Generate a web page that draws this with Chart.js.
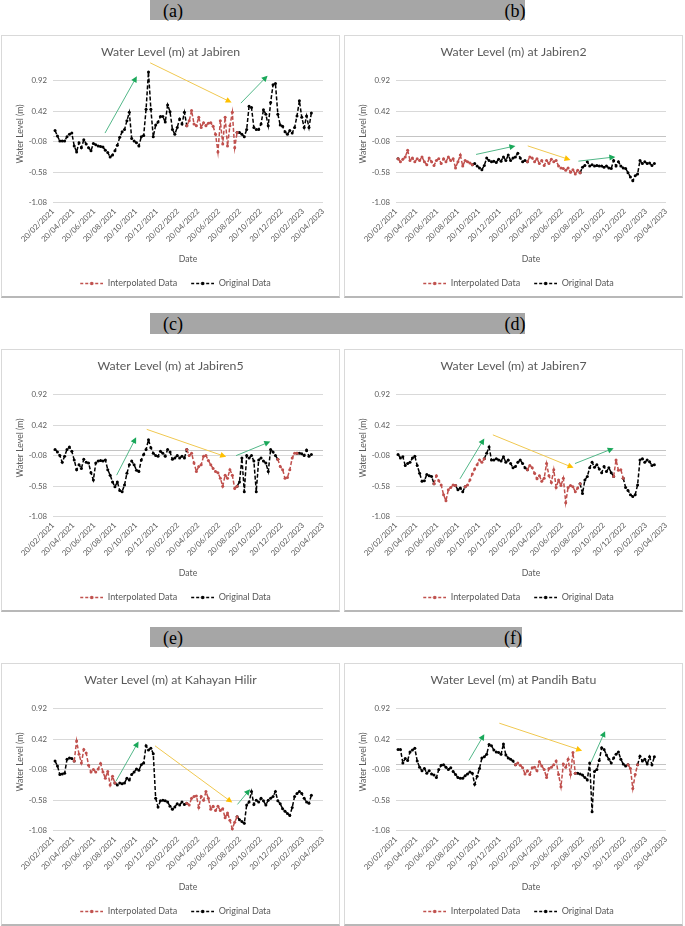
<!DOCTYPE html>
<html>
<head>
<meta charset="utf-8">
<script src="https://cdn.jsdelivr.net/npm/chart.js@4.4.1/dist/chart.umd.min.js"></script>
<style>
html,body{margin:0;padding:0;background:#fff;}
body{width:685px;height:926px;position:relative;overflow:hidden;}
.bar{position:absolute;background:#a6a6a6;}
.tag{position:absolute;font-family:'Liberation Serif','Times New Roman',serif;font-size:18px;color:#000;transform:translate(-50%,-50%);line-height:1;white-space:nowrap;}
.frame{position:absolute;box-sizing:border-box;border:1px solid #d9d9d9;border-bottom:2px solid #b8b8b8;}
canvas{position:absolute;}
</style>
</head>
<body>
<div class="bar" style="left:150px;top:0px;width:375px;height:20px;"></div>
<div class="tag" style="left:173px;top:11px;">(a)</div>
<div class="tag" style="left:515px;top:11px;">(b)</div>
<div class="bar" style="left:150px;top:313px;width:375px;height:21px;"></div>
<div class="tag" style="left:173px;top:324px;">(c)</div>
<div class="tag" style="left:515px;top:324px;">(d)</div>
<div class="bar" style="left:150px;top:627px;width:372px;height:20px;"></div>
<div class="tag" style="left:173px;top:638px;">(e)</div>
<div class="tag" style="left:513px;top:638px;">(f)</div>

<script>
// ---------------- data ----------------
const dateTickLabels = ['20/02/2021','20/04/2021','20/06/2021','20/08/2021','20/10/2021','20/12/2021',
  '20/02/2022','20/04/2022','20/06/2022','20/08/2022','20/10/2022','20/12/2022','20/02/2023','20/04/2023'];
const levelTickLabels = [-1.08, -0.58, -0.08, 0.42, 0.92];
const firstSampleDate = '26/02/2021';
const sampleStepDays = 7;

const levelJabiren = [0.10,0.01,-0.07,-0.07,-0.07,0.00,0.04,0.06,-0.15,-0.25,
 -0.10,-0.18,-0.05,-0.12,-0.18,-0.23,-0.11,-0.13,-0.15,-0.16,
 -0.17,-0.22,-0.26,-0.33,-0.30,-0.23,-0.14,-0.01,0.08,0.12,
 0.26,0.40,-0.03,-0.07,-0.10,-0.15,0.00,0.02,0.45,1.06,
 0.45,0.00,0.19,0.24,0.33,0.33,0.24,0.52,0.41,0.12,
 0.04,0.15,0.29,0.21,0.40,0.18,0.26,0.43,0.21,0.18,
 0.32,0.15,0.23,0.18,0.22,0.23,0.17,0.04,-0.25,0.26,
 -0.12,0.32,-0.15,0.18,0.40,-0.18,0.07,0.07,0.04,0.00,
 0.12,0.50,0.48,0.15,0.12,0.12,0.21,0.44,0.37,0.18,
 0.56,0.85,0.87,0.37,0.19,0.17,0.08,0.04,0.10,0.06,
 0.15,0.34,0.59,0.32,0.15,0.34,0.15,0.39];
const interpJabiren = [[56,75]];

const levelJabiren2 = [-0.36,-0.41,-0.37,-0.33,-0.22,-0.39,-0.35,-0.41,-0.36,-0.39,
 -0.33,-0.41,-0.46,-0.35,-0.41,-0.47,-0.39,-0.36,-0.44,-0.36,
 -0.41,-0.33,-0.39,-0.36,-0.51,-0.41,-0.30,-0.48,-0.39,-0.41,
 -0.43,-0.46,-0.44,-0.48,-0.51,-0.54,-0.47,-0.35,-0.39,-0.41,
 -0.40,-0.42,-0.37,-0.40,-0.33,-0.39,-0.30,-0.39,-0.35,-0.33,
 -0.27,-0.35,-0.41,-0.39,-0.41,-0.33,-0.35,-0.41,-0.36,-0.44,
 -0.39,-0.47,-0.39,-0.44,-0.37,-0.41,-0.39,-0.48,-0.51,-0.52,
 -0.55,-0.51,-0.58,-0.54,-0.61,-0.55,-0.59,-0.50,-0.47,-0.41,
 -0.48,-0.46,-0.48,-0.47,-0.48,-0.48,-0.50,-0.48,-0.51,-0.52,
 -0.39,-0.48,-0.41,-0.48,-0.51,-0.52,-0.59,-0.66,-0.72,-0.64,
 -0.61,-0.39,-0.44,-0.41,-0.44,-0.43,-0.47,-0.44];
const interpJabiren2 = [[1,30],[55,75]];

const levelJabiren5 = [0.02,-0.02,-0.08,-0.19,-0.09,0.02,0.06,-0.01,-0.15,-0.31,
 -0.23,-0.29,-0.14,-0.19,-0.20,-0.36,-0.48,-0.20,-0.17,-0.16,
 -0.17,-0.15,-0.31,-0.40,-0.51,-0.59,-0.51,-0.65,-0.67,-0.56,
 -0.37,-0.23,-0.17,-0.23,-0.32,-0.34,-0.15,-0.06,0.02,0.18,
 0.05,-0.04,-0.08,-0.09,-0.01,-0.04,-0.09,0.02,-0.02,-0.14,
 -0.12,-0.08,-0.12,-0.09,-0.12,0.02,-0.08,-0.04,-0.20,-0.34,
 -0.26,-0.23,-0.09,-0.08,-0.16,-0.23,-0.29,-0.34,-0.36,-0.45,
 -0.58,-0.40,-0.45,-0.31,-0.40,-0.62,-0.58,-0.51,-0.12,-0.67,
 -0.08,-0.12,-0.08,-0.17,-0.67,-0.15,-0.12,-0.17,-0.20,-0.34,
 0.02,-0.02,-0.08,-0.14,-0.26,-0.31,-0.45,-0.44,-0.31,-0.12,
 -0.04,-0.04,-0.04,-0.05,-0.08,0.01,-0.09,-0.06];
const interpJabiren5 = [[56,75],[94,100]];

const levelJabiren7 = [-0.06,-0.12,-0.10,-0.24,-0.21,-0.19,-0.12,-0.09,-0.24,-0.37,
 -0.50,-0.49,-0.39,-0.41,-0.42,-0.54,-0.41,-0.49,-0.56,-0.72,
 -0.82,-0.64,-0.60,-0.56,-0.57,-0.64,-0.61,-0.67,-0.59,-0.56,
 -0.48,-0.38,-0.30,-0.23,-0.15,-0.19,-0.13,-0.04,0.06,-0.15,
 -0.15,-0.13,-0.15,-0.17,-0.10,-0.19,-0.15,-0.21,-0.28,-0.26,
 -0.19,-0.15,-0.21,-0.28,-0.31,-0.24,-0.28,-0.37,-0.46,-0.41,
 -0.50,-0.45,-0.21,-0.41,-0.52,-0.31,-0.60,-0.48,-0.57,-0.45,
 -0.85,-0.60,-0.57,-0.59,-0.67,-0.61,-0.54,-0.70,-0.48,-0.42,
 -0.28,-0.19,-0.27,-0.23,-0.30,-0.36,-0.26,-0.34,-0.28,-0.36,
 -0.42,-0.15,-0.32,-0.31,-0.45,-0.60,-0.65,-0.72,-0.75,-0.72,
 -0.56,-0.15,-0.13,-0.19,-0.15,-0.18,-0.24,-0.23];
const interpJabiren7 = [[16,23],[29,35],[55,75],[91,93]];

const levelKahayanHilir = [0.06,-0.02,-0.16,-0.15,-0.14,0.09,0.11,0.10,0.06,0.39,
 0.17,0.03,0.25,0.19,-0.01,-0.12,-0.08,-0.12,-0.07,0.02,
 -0.12,-0.22,-0.11,-0.33,-0.19,-0.30,-0.33,-0.30,-0.31,-0.30,
 -0.22,-0.25,-0.16,-0.12,-0.07,-0.09,0.00,0.03,0.31,0.24,
 0.27,0.18,-0.55,-0.69,-0.59,-0.58,-0.59,-0.61,-0.68,-0.73,
 -0.69,-0.64,-0.66,-0.61,-0.65,-0.63,-0.66,-0.55,-0.52,-0.51,
 -0.70,-0.52,-0.58,-0.44,-0.55,-0.73,-0.68,-0.75,-0.68,-0.75,
 -0.72,-0.87,-0.79,-0.91,-1.05,-0.94,-0.85,-0.90,-0.93,-0.96,
 -0.66,-0.61,-0.44,-0.65,-0.58,-0.61,-0.55,-0.59,-0.66,-0.58,
 -0.55,-0.52,-0.44,-0.59,-0.64,-0.72,-0.76,-0.80,-0.83,-0.70,
 -0.52,-0.47,-0.44,-0.47,-0.55,-0.61,-0.63,-0.50];
const interpKahayanHilir = [[9,24],[56,75]];

const levelPandihBatu = [0.25,0.25,0.03,0.10,0.07,0.21,0.24,0.27,0.06,-0.04,
 -0.10,-0.06,-0.14,-0.10,-0.15,-0.17,-0.21,-0.08,-0.01,0.00,
 -0.04,-0.08,-0.05,-0.11,-0.16,-0.21,-0.22,-0.22,-0.18,-0.15,
 -0.12,-0.14,-0.32,-0.19,-0.06,0.11,0.13,0.17,0.33,0.31,
 0.24,0.21,0.20,0.17,0.34,0.16,0.11,0.09,0.06,0.00,
 0.03,-0.01,-0.05,-0.15,-0.10,-0.16,-0.05,-0.04,-0.10,0.05,
 -0.02,-0.08,-0.21,-0.06,-0.04,0.00,0.06,-0.16,-0.36,0.01,
 -0.04,0.09,-0.16,0.20,-0.14,-0.14,-0.15,-0.17,-0.21,-0.25,
 0.03,-0.77,-0.11,-0.08,0.07,0.28,0.25,0.16,0.09,0.03,
 0.11,0.17,0.21,0.09,0.01,-0.02,0.00,-0.06,-0.39,-0.16,
 0.00,0.14,0.06,0.09,0.01,0.13,0.00,0.13];
const interpPandihBatu = [[50,73],[97,99]];

// trend arrows (annotations): [fromDay, fromLevel, toDay, toLevel, kind]
const arrowsJabiren = [[152,0.06,245,0.99,'rise'],[284,1.21,522,0.56,'fall'],[549,0.55,627,1.00,'rise']];
const arrowsJabiren2 = [[234,-0.29,349,-0.15,'rise'],[385,-0.15,510,-0.38,'fall'],[533,-0.40,641,-0.33,'rise']];
const arrowsJabiren5 = [[186,-0.40,243,0.22,'rise'],[274,0.35,506,-0.10,'fall'],[535,-0.08,635,0.15,'rise']];
const arrowsJabiren7 = [[187,-0.46,258,0.20,'rise'],[283,0.26,519,-0.28,'fall'],[523,-0.21,636,0.04,'rise']];
const arrowsKahayanHilir = [[184,-0.27,250,0.38,'rise'],[298,0.31,524,-0.62,'fall'],[539,-0.65,576,-0.40,'rise']];
const arrowsPandihBatu = [[213,0.07,258,0.50,'rise'],[302,0.68,544,0.23,'fall'],[570,0.04,611,0.55,'rise']];

// ---------------- rendering ----------------
const FONT = "Lato, 'Open Sans', sans-serif";
const TXT = '#595959';
const RED = '#c0504d';
const BLACK = '#000000';

function dayOf(s) {
  const [d, m, y] = s.split('/').map(Number);
  return Math.round((Date.UTC(y, m - 1, d) - Date.UTC(2021, 1, 20)) / 86400000);
}
const tickDays = dateTickLabels.map(dayOf);
const firstDay = dayOf(firstSampleDate);

function buildSets(values, ranges) {
  const inInterior = i => ranges.some(r => i >= r[0] && i <= r[1]);
  const inInterp = i => ranges.some(r => i >= r[0] - 1 && i <= r[1] + 1);
  const interp = [], orig = [];
  values.forEach((v, i) => {
    const x = firstDay + i * sampleStepDays;
    interp.push({x, y: inInterp(i) ? v : null});
    orig.push({x, y: inInterior(i) ? null : v});
  });
  return [interp, orig];
}

function legendSample(color) {
  const c = document.createElement('canvas');
  c.width = 33; c.height = 7;
  const g = c.getContext('2d');
  g.strokeStyle = color; g.lineWidth = 1.5; g.setLineDash([3, 2]);
  g.beginPath(); g.moveTo(10, 3.5); g.lineTo(33, 3.5); g.stroke();
  g.fillStyle = color; g.beginPath(); g.arc(21.5, 3.5, 1.8, 0, Math.PI * 2); g.fill();
  return c;
}
const samples = [legendSample(RED), legendSample(BLACK)];

const trendArrowPlugin = {
  id: 'trendArrows',
  afterDatasetsDraw(chart, args, opts) {
    const {ctx} = chart; const xs = chart.scales.x, ys = chart.scales.y;
    (opts.list || []).forEach(a => {
      const x1 = xs.getPixelForValue(a[0]), y1 = ys.getPixelForValue(a[1]);
      const x2 = xs.getPixelForValue(a[2]), y2 = ys.getPixelForValue(a[3]);
      const ang = Math.atan2(y2 - y1, x2 - x1), hl = 6, hw = 3;
      const line = a[4] === 'rise' ? '#52b788' : '#f0c850';
      const head = a[4] === 'rise' ? '#1aa85a' : '#ffc000';
      ctx.save();
      ctx.strokeStyle = line; ctx.lineWidth = 1;
      ctx.beginPath(); ctx.moveTo(x1, y1);
      ctx.lineTo(x2 - Math.cos(ang) * hl * 0.8, y2 - Math.sin(ang) * hl * 0.8); ctx.stroke();
      ctx.fillStyle = head; ctx.beginPath(); ctx.moveTo(x2, y2);
      ctx.lineTo(x2 - hl * Math.cos(ang) + hw * Math.sin(ang), y2 - hl * Math.sin(ang) - hw * Math.cos(ang));
      ctx.lineTo(x2 - hl * Math.cos(ang) - hw * Math.sin(ang), y2 - hl * Math.sin(ang) + hw * Math.cos(ang));
      ctx.closePath(); ctx.fill();
      ctx.restore();
    });
  }
};
Chart.register(trendArrowPlugin);

const panels = [
  {left: 1, top: 35, title: 'Water Level (m) at Jabiren', values: levelJabiren, interp: interpJabiren, arrows: arrowsJabiren},
  {left: 344, top: 35, title: 'Water Level (m) at Jabiren2', values: levelJabiren2, interp: interpJabiren2, arrows: arrowsJabiren2},
  {left: 1, top: 349, title: 'Water Level (m) at Jabiren5', values: levelJabiren5, interp: interpJabiren5, arrows: arrowsJabiren5},
  {left: 344, top: 349, title: 'Water Level (m) at Jabiren7', values: levelJabiren7, interp: interpJabiren7, arrows: arrowsJabiren7},
  {left: 1, top: 663, title: 'Water Level (m) at Kahayan Hilir', values: levelKahayanHilir, interp: interpKahayanHilir, arrows: arrowsKahayanHilir},
  {left: 344, top: 663, title: 'Water Level (m) at Pandih Batu', values: levelPandihBatu, interp: interpPandihBatu, arrows: arrowsPandihBatu}
];

const W = 339, H = 263, CH = 263;
panels.forEach(p => {
  const fr = document.createElement('div');
  fr.className = 'frame';
  fr.style.cssText = `left:${p.left}px;top:${p.top}px;width:${W}px;height:${H}px;`;
  document.body.appendChild(fr);
  const cv = document.createElement('canvas');
  cv.width = W; cv.height = CH;
  cv.style.cssText = `left:${p.left}px;top:${p.top}px;width:${W}px;height:${CH}px;`;
  document.body.appendChild(cv);
  const [interp, orig] = buildSets(p.values, p.interp);
  const ds = (label, data, color) => ({
    label, data, borderColor: color, backgroundColor: color,
    borderWidth: 1.5, borderDash: [4, 2], pointRadius: 1.5, pointHoverRadius: 1.5,
    pointBorderWidth: 0, pointBackgroundColor: color, tension: 0, spanGaps: false
  });
  new Chart(cv, {
    type: 'line',
    data: {datasets: [ds('Interpolated Data', interp, RED), ds('Original Data', orig, BLACK)]},
    options: {
      responsive: false, animation: false, devicePixelRatio: 1,
      events: [],
      layout: {padding: {left: 0, right: 0, top: 0, bottom: 0}},
      plugins: {
        title: {display: true, text: p.title, color: TXT,
          font: {family: FONT, size: 12.3, weight: 'normal'}, padding: {top: 9.5, bottom: 6}},
        legend: {position: 'bottom',
          labels: {usePointStyle: true, pointStyleWidth: 33, padding: 4, color: TXT,
            font: {family: FONT, size: 9},
            generateLabels: chart => chart.data.datasets.map((d, i) => ({
              text: d.label, pointStyle: samples[i], fillStyle: d.borderColor,
              strokeStyle: d.borderColor, lineWidth: 0, hidden: false, datasetIndex: i, fontColor: TXT
            }))
          }},
        tooltip: {enabled: false},
        trendArrows: {list: p.arrows}
      },
      scales: {
        x: {
          type: 'linear', min: tickDays[0], max: tickDays[tickDays.length - 1],
          afterBuildTicks: s => { s.ticks = tickDays.map(v => ({value: v})); },
          afterFit: s => { s.height = 72.3; },
          ticks: {autoSkip: false, minRotation: 45, maxRotation: 45, padding: 4, color: TXT,
            font: {family: FONT, size: 7.8},
            callback: v => { const k = tickDays.indexOf(v); return k >= 0 ? dateTickLabels[k] : ''; }},
          grid: {display: false, drawTicks: false},
          border: {display: false},
          title: {display: true, text: 'Date', color: TXT, font: {family: FONT, size: 8.7},
            padding: {top: 0, bottom: 11}}
        },
        y: {
          min: -1.08, max: 1.17,
          afterBuildTicks: s => { s.ticks = [levelTickLabels[0], levelTickLabels[1], levelTickLabels[2], 0, levelTickLabels[3], levelTickLabels[4]].map(v => ({value: v})); },
          afterFit: s => { s.width = 52; },
          ticks: {padding: 6, color: TXT, font: {family: FONT, size: 7.8},
            callback: v => v === 0 ? '' : v.toFixed(2)},
          grid: {drawTicks: false, lineWidth: 1,
            color: c => (c.tick && c.tick.value === 0) ? '#c4c4c4' : '#d9d9d9'},
          border: {display: false},
          title: {display: true, text: 'Water Level (m)', color: TXT, font: {family: FONT, size: 8.7},
            padding: {top: 14, bottom: 0}}
        },
        rightSpace: {
          type: 'linear', position: 'right', display: true,
          afterFit: s => { s.width = 17; },
          ticks: {display: false}, grid: {display: false, drawTicks: false}, border: {display: false}
        }
      }
    }
  });
});
</script>
</body>
</html>
